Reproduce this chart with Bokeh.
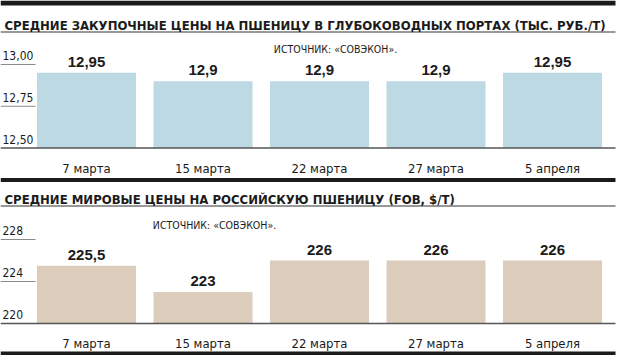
from bokeh.plotting import figure
from bokeh.models import Range1d
from bokeh.core.properties import value
from bokeh.embed import file_html
from bokeh.resources import INLINE

# ---------------- data ----------------
categories = ["7 марта", "15 марта", "22 марта", "27 марта", "5 апреля"]
rub_values = [12.95, 12.9, 12.9, 12.9, 12.95]
rub_labels = ["12,95", "12,9", "12,9", "12,9", "12,95"]
usd_values = [225.5, 223, 226, 226, 226]
usd_labels = ["225,5", "223", "226", "226", "226"]
rub_ticks = [12.50, 12.75, 13.00]
rub_tick_labels = ["12,50", "12,75", "13,00"]
usd_ticks = [220, 224, 228]
usd_tick_labels = ["220", "224", "228"]
title_rub = "СРЕДНИЕ ЗАКУПОЧНЫЕ ЦЕНЫ НА ПШЕНИЦУ В ГЛУБОКОВОДНЫХ ПОРТАХ (ТЫС. РУБ./Т)"
title_usd = "СРЕДНИЕ МИРОВЫЕ ЦЕНЫ НА РОССИЙСКУЮ ПШЕНИЦУ (FOB, $/Т)"
source_text = "ИСТОЧНИК: «СОВЭКОН»."

# ---------------- layout / style ----------------
W, H = 618, 355
CAT_PX = 116.5          # pixels per category slot
CAT_LEFT = 27.75        # left edge of first slot (px)
RUB_BASE_PX, RUB_SCALE = 147.5, 167.0   # px of baseline, px per unit
USD_BASE_PX, USD_SCALE = 323.0, 10.5
LINE_RIGHT = 615

BLUE = "#bdd9e3"
BEIGE = "#dbccbc"
DARK = "#1b1b1b"
NARROW = value("'DejaVu Sans Condensed', 'Roboto Condensed', 'Liberation Sans Narrow', Roboto, sans-serif")
SANS = value("'Liberation Sans', Arial, sans-serif")

xs = [i + 0.5 for i in range(len(categories))]

rb, ub = rub_ticks[0], usd_ticks[0]
p = figure(width=W, height=H, output_backend="svg", toolbar_location=None, tools="",
           x_axis_type=None, y_axis_type=None, min_border=0,
           x_range=Range1d(-CAT_LEFT / CAT_PX, (W - CAT_LEFT) / CAT_PX),
           y_range=Range1d(rb - (H - RUB_BASE_PX) / RUB_SCALE, rb + RUB_BASE_PX / RUB_SCALE),
           background_fill_color="white", border_fill_color="white", outline_line_color=None)
p.extra_x_ranges = {"px": Range1d(0, W)}
p.extra_y_ranges = {"usd": Range1d(ub - (H - USD_BASE_PX) / USD_SCALE, ub + USD_BASE_PX / USD_SCALE),
                    "py": Range1d(H, 0)}

# heavy black rules
p.quad(left=[0, 0, 0], right=[LINE_RIGHT] * 3, top=[0, 177.5, 351], bottom=[5, 181.5, 355],
       x_range_name="px", y_range_name="py", fill_color=DARK, line_color=None)
# thin rules under titles
p.segment(x0=[0, 0], x1=[LINE_RIGHT] * 2, y0=[31.5, 205.5], y1=[31.5, 205.5],
          x_range_name="px", y_range_name="py", line_color="#333333", line_width=1)

# titles
p.text(x=[4], y=[24.5], text=[title_rub], x_range_name="px", y_range_name="py",
       text_font=NARROW, text_font_style="bold", text_font_size="13px",
       text_color=DARK, text_baseline="alphabetic")
p.text(x=[4], y=[198.5], text=[title_usd], x_range_name="px", y_range_name="py",
       text_font=NARROW, text_font_style="bold", text_font_size="13px",
       text_color=DARK, text_baseline="alphabetic")

# sources
p.text(x=[335, 214], y=[48.5, 224], text=[source_text, source_text], x_range_name="px", y_range_name="py",
       text_font=NARROW, text_font_size="10.5px", text_color=DARK,
       text_align="center", text_baseline="alphabetic")

# ---------- top panel ----------
p.segment(x0=0, x1=35, y0=rub_ticks[1:], y1=rub_ticks[1:], x_range_name="px",
          line_color="#8a8a8a", line_width=1)
p.vbar(x=xs, top=rub_values, bottom=rb, width=99 / CAT_PX, fill_color=BLUE, line_color=None)
p.segment(x0=0, x1=LINE_RIGHT, y0=rb, y1=rb, x_range_name="px", line_color="#555555", line_width=1.5)
p.text(x=2, y=rub_ticks, text=rub_tick_labels, x_range_name="px", y_offset=-9,
       text_font=NARROW, text_font_size="12px", text_color=DARK, text_baseline="alphabetic")
p.text(x=xs, y=rub_values, text=rub_labels, y_offset=-11, text_font=SANS, text_font_style="bold",
       text_font_size="15px", text_color=DARK, text_align="center", text_baseline="alphabetic")
p.text(x=xs, y=[168] * len(xs), text=categories, y_range_name="py", text_font=NARROW,
       text_font_size="13px", text_color=DARK, text_align="center", text_baseline="alphabetic")

# ---------- bottom panel ----------
p.segment(x0=0, x1=35, y0=usd_ticks[1:], y1=usd_ticks[1:], x_range_name="px", y_range_name="usd",
          line_color="#8a8a8a", line_width=1)
p.vbar(x=xs, top=usd_values, bottom=ub, width=99 / CAT_PX, y_range_name="usd",
       fill_color=BEIGE, line_color=None)
p.segment(x0=0, x1=LINE_RIGHT, y0=ub, y1=ub, x_range_name="px", y_range_name="usd",
          line_color="#555555", line_width=1.5)
p.text(x=2, y=usd_ticks, text=usd_tick_labels, x_range_name="px", y_range_name="usd", y_offset=-9,
       text_font=NARROW, text_font_size="12px", text_color=DARK, text_baseline="alphabetic")
p.text(x=xs, y=usd_values, text=usd_labels, y_range_name="usd", y_offset=-11, text_font=SANS,
       text_font_style="bold", text_font_size="15px", text_color=DARK, text_align="center",
       text_baseline="alphabetic")
p.text(x=xs, y=[343] * len(xs), text=categories, y_range_name="py", text_font=NARROW,
       text_font_size="13px", text_color=DARK, text_align="center", text_baseline="alphabetic")

open("out.html", "w").write(file_html(p, INLINE))
